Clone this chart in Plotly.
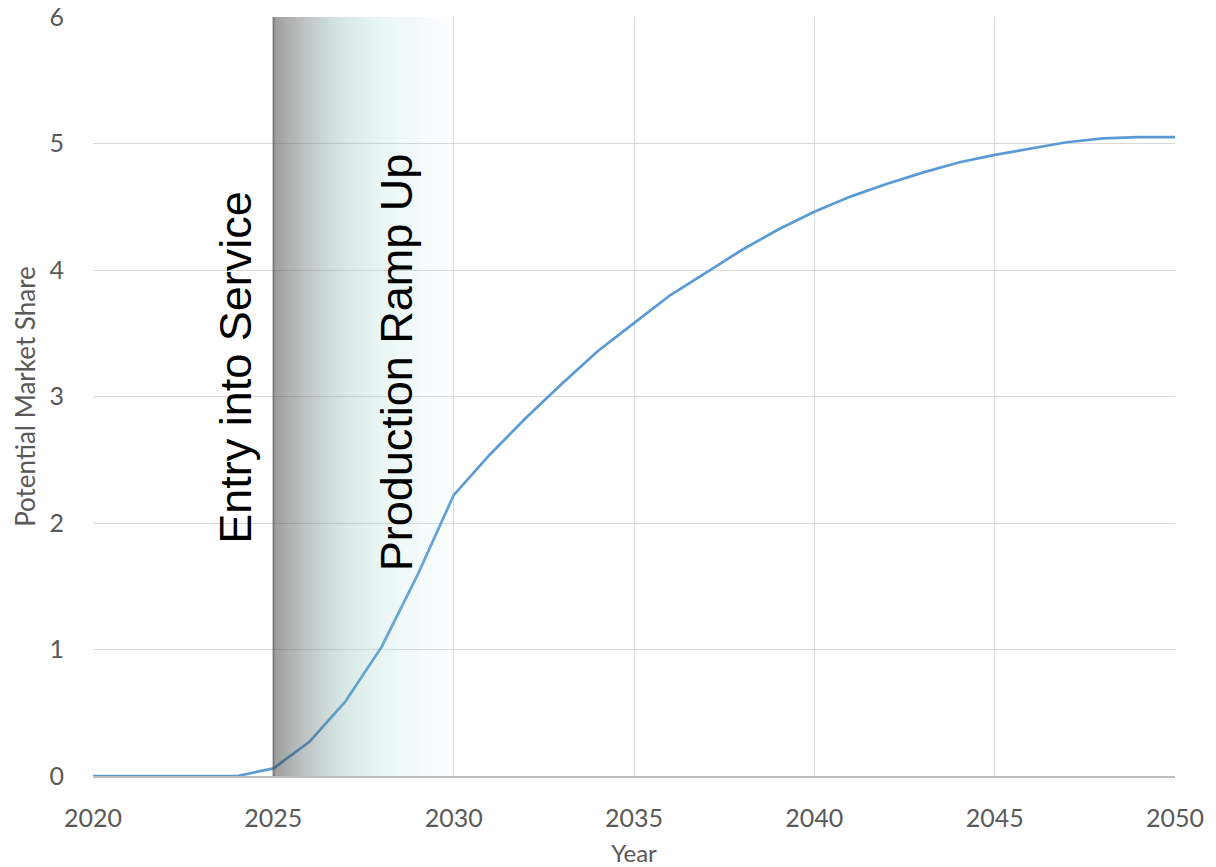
import plotly.graph_objects as go

# Potential market share by year
years = list(range(2020, 2051))
market_share = [
    0.0, 0.0, 0.0, 0.0, 0.0,          # 2020-2024
    0.06, 0.27, 0.59, 1.02, 1.59,     # 2025-2029
    2.22, 2.54, 2.83, 3.10, 3.36,     # 2030-2034
    3.58, 3.80, 3.98, 4.16, 4.32,     # 2035-2039
    4.46, 4.58, 4.68, 4.77, 4.85,     # 2040-2044
    4.91, 4.96, 5.01, 5.04, 5.05,     # 2045-2049
    5.05,                             # 2050
]

# Program phases
eis_year = 2025
ramp_end_year = 2030
phase_labels = ["Entry into Service", "Production Ramp Up"]
phase_label_x = [2023.95, 2028.4]
phase_label_y = [3.23, 3.27]

x_ticks = [2020, 2025, 2030, 2035, 2040, 2045, 2050]
y_ticks = [0, 1, 2, 3, 4, 5, 6]

tick_font = dict(family="Lato, 'Open Sans', sans-serif", size=25, color="#595959")
x_title_font = dict(family="Lato, 'Open Sans', sans-serif", size=24, color="#595959")
y_title_font = dict(family="Lato, 'Open Sans', sans-serif", size=26, color="#595959")

fig = go.Figure()

fig.add_trace(go.Scatter(
    x=years, y=market_share, mode="lines",
    line=dict(color="#5b9bd5", width=2.7),
    hoverinfo="x+y", showlegend=False,
))

# Shaded ramp-up band drawn over the curve with a translucent gradient
fig.add_trace(go.Scatter(
    x=[eis_year, ramp_end_year, ramp_end_year, eis_year, eis_year],
    y=[0, 0, 6, 6, 0],
    mode="lines", line=dict(width=0),
    fill="toself",
    fillgradient=dict(
        type="horizontal",
        colorscale=[
            [0.0, "rgba(55,55,55,0.50)"],
            [0.2, "rgba(70,92,88,0.33)"],
            [0.4, "rgba(120,180,170,0.29)"],
            [0.6, "rgba(150,210,200,0.21)"],
            [0.8, "rgba(170,225,220,0.14)"],
            [1.0, "rgba(200,240,240,0.06)"],
        ],
    ),
    hoverinfo="skip", showlegend=False,
))

fig.add_trace(go.Scatter(
    x=[eis_year, eis_year], y=[0, 6], mode="lines",
    line=dict(color="rgba(70,70,70,0.45)", width=2),
    hoverinfo="skip", showlegend=False,
))

for label, lx, ly in zip(phase_labels, phase_label_x, phase_label_y):
    fig.add_annotation(
        x=lx, y=ly, text=label, textangle=-90, showarrow=False,
        font=dict(family="'Liberation Sans', Arial, sans-serif", size=45, color="#000000"),
        xanchor="center", yanchor="middle",
    )

fig.update_xaxes(
    range=[2020, 2050], tickvals=x_ticks, tickfont=tick_font,
    showgrid=True, gridcolor="#d9d9d9", gridwidth=1,
    showline=True, linecolor="#bfbfbf", linewidth=1.5,
    zeroline=False, ticks="", ticklabelstandoff=19, automargin=False,
    title=dict(text="Year", font=x_title_font, standoff=14),
)
fig.update_yaxes(
    range=[0, 6], tickvals=y_ticks, tickfont=tick_font,
    showgrid=True, gridcolor="#d9d9d9", gridwidth=1,
    showline=False, zeroline=False, ticks="", ticklabelstandoff=28, automargin=False,
    title=dict(text="Potential Market Share", font=y_title_font, standoff=6),
)

fig.update_layout(
    width=1216, height=867,
    margin=dict(l=93, r=41, t=17, b=91),
    paper_bgcolor="white", plot_bgcolor="white",
    showlegend=False,
)

fig.write_html("out.html")
